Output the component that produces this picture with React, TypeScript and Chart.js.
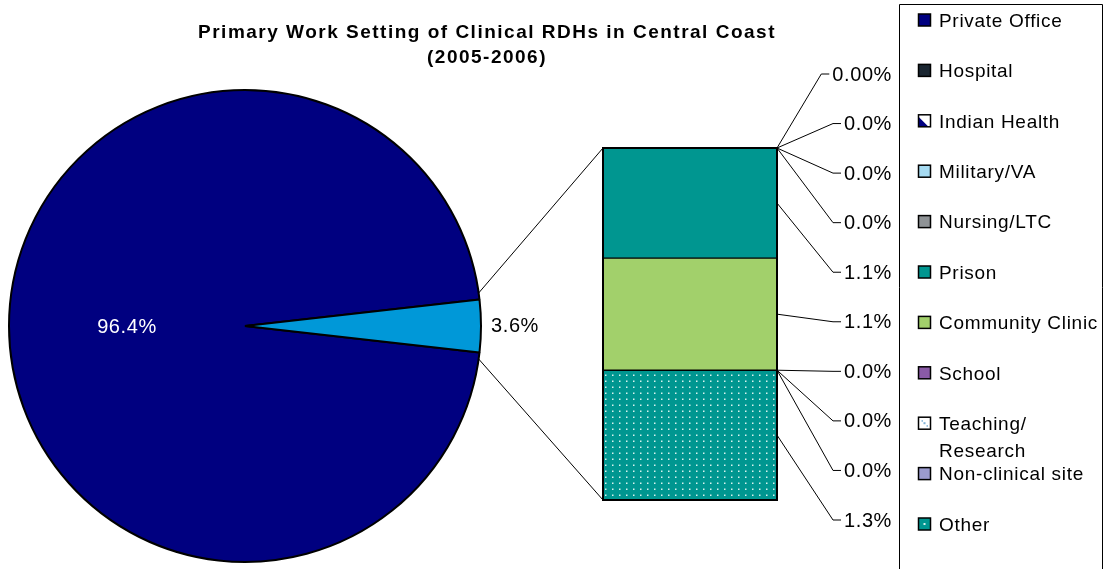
import React, { useEffect, useRef } from "react";
import { Chart, registerables } from "chart.js";

Chart.register(...registerables);

// ---------- data ----------
const TITLE_LINES = ["Primary Work Setting of Clinical RDHs in Central Coast", "(2005-2006)"];
const PIE_CATEGORY = "Private Office";
const PIE_VALUE = 96.42;
const BAR_CATEGORIES = [
  "Hospital",
  "Indian Health",
  "Military/VA",
  "Nursing/LTC",
  "Prison",
  "Community Clinic",
  "School",
  "Teaching/ Research",
  "Non-clinical site",
  "Other",
];
const BAR_VALUES = [0, 0, 0, 0, 1.12, 1.14, 0, 0, 0, 1.32];
const BAR_LABEL_DECIMALS = [2, 1, 1, 1, 1, 1, 1, 1, 1, 1];

// ---------- styles ----------
type Fill =
  | { kind: "solid"; color: string }
  | { kind: "dots"; bg: string; dot: string }
  | { kind: "diag"; bg: string; fg: string };

const PIE_FILL: Fill = { kind: "solid", color: "#000080" };
const PIE_OTHER_COLOR = "#0098D8";
const BAR_FILLS: Fill[] = [
  { kind: "solid", color: "#1A2631" },
  { kind: "diag", bg: "#FFFFFF", fg: "#000080" },
  { kind: "solid", color: "#A6DBF2" },
  { kind: "solid", color: "#8F9396" },
  { kind: "solid", color: "#009690" },
  { kind: "solid", color: "#A2D06B" },
  { kind: "solid", color: "#8A5AA6" },
  { kind: "dots", bg: "#FFFFFF", dot: "#7FB2D8" },
  { kind: "solid", color: "#9B9BCF" },
  { kind: "dots", bg: "#009690", dot: "#D8F2EE" },
];

const FONT = '"Liberation Sans", Arial, Helvetica, sans-serif';
const W = 1110;
const H = 569;

// layout
const PIE_BOX = { left: 8, top: 89, right: 482, bottom: 563 };
const BAR_BOX = { left: 603, top: 148, right: 777, bottom: 500 };
const LABEL_TOP = 74;
const LABEL_BOTTOM = 520;
const LABEL_RIGHT = 892;
const LEGEND = { left: 899, top: 4, right: 1102, y0: 20, step: 50.4, markerX: 918, marker: 12, textX: 939, lineH: 27 };

function makePattern(fill: Fill): string | CanvasPattern {
  if (fill.kind === "solid") return fill.color;
  const c = document.createElement("canvas");
  const g = c.getContext("2d")!;
  if (fill.kind === "dots") {
    c.width = 7;
    c.height = 6;
    g.fillStyle = fill.bg;
    g.fillRect(0, 0, 7, 6);
    g.fillStyle = fill.dot;
    g.fillRect(3, 2.5, 1.5, 1.5);
  } else {
    c.width = 8;
    c.height = 8;
    g.fillStyle = fill.bg;
    g.fillRect(0, 0, 8, 8);
    g.strokeStyle = fill.fg;
    g.lineWidth = 3;
    g.beginPath();
    g.moveTo(-2, -2);
    g.lineTo(10, 10);
    g.stroke();
  }
  return g.createPattern(c, "repeat")!;
}

function setFont(ctx: CanvasRenderingContext2D, size: number, bold: boolean, ls: number) {
  ctx.font = `${bold ? "bold " : ""}${size}px ${FONT}`;
  (ctx as any).letterSpacing = `${ls}px`;
}

function drawMarker(ctx: CanvasRenderingContext2D, fill: Fill, x: number, y: number, s: number) {
  ctx.save();
  if (fill.kind === "solid") {
    ctx.fillStyle = fill.color;
    ctx.fillRect(x, y, s, s);
  } else if (fill.kind === "dots") {
    ctx.fillStyle = fill.bg;
    ctx.fillRect(x, y, s, s);
    ctx.fillStyle = fill.dot;
    ctx.fillRect(x + s / 2 - 1, y + s / 2 - 1, 2, 2);
    if (fill.bg === "#FFFFFF") {
      ctx.fillRect(x + 3, y + 3, 1.5, 1.5);
      ctx.fillRect(x + s - 4, y + s - 4, 1.5, 1.5);
    }
  } else {
    ctx.fillStyle = fill.bg;
    ctx.fillRect(x, y, s, s);
    ctx.fillStyle = fill.fg;
    ctx.beginPath();
    ctx.moveTo(x, y + 2);
    ctx.lineTo(x + s - 2, y + s);
    ctx.lineTo(x, y + s);
    ctx.closePath();
    ctx.fill();
  }
  ctx.strokeStyle = "#000";
  ctx.lineWidth = 1.5;
  ctx.strokeRect(x, y, s, s);
  ctx.restore();
}

function wrapWords(ctx: CanvasRenderingContext2D, text: string, maxW: number): string[] {
  const words = text.split(" ");
  const lines: string[] = [];
  let cur = "";
  for (const w of words) {
    const test = cur ? cur + " " + w : w;
    if (cur && ctx.measureText(test).width > maxW) {
      lines.push(cur);
      cur = w;
    } else cur = test;
  }
  if (cur) lines.push(cur);
  return lines;
}

export default function App() {
  const pieRef = useRef<HTMLCanvasElement>(null);
  const barRef = useRef<HTMLCanvasElement>(null);

  useEffect(() => {
    document.body.style.margin = "0";
    const barTotal = BAR_VALUES.reduce((a, b) => a + b, 0);
    const total = PIE_VALUE + barTotal;

    const pie = new Chart(pieRef.current!, {
      type: "pie",
      data: {
        labels: [PIE_CATEGORY, "Other settings"],
        datasets: [
          {
            data: [PIE_VALUE, barTotal],
            backgroundColor: [(PIE_FILL as any).color, PIE_OTHER_COLOR],
            borderColor: "#000",
            borderWidth: 2,
          },
        ],
      },
      options: {
        responsive: false,
        animation: false,
        rotation: 90 + (barTotal / total) * 180,
        layout: {
          padding: { left: PIE_BOX.left, top: PIE_BOX.top, right: W - PIE_BOX.right, bottom: H - PIE_BOX.bottom },
        },
        plugins: { legend: { display: false }, tooltip: { enabled: false } },
      },
    });

    const patterns = BAR_FILLS.map(makePattern);
    const stackOrder = BAR_CATEGORIES.map((_, i) => BAR_CATEGORIES.length - 1 - i);

    const overlay = {
      id: "overlay",
      afterDraw(chart: any) {
        const ctx: CanvasRenderingContext2D = chart.ctx;
        ctx.save();

        // ---- title ----
        setFont(ctx, 19, true, 1.5);
        ctx.fillStyle = "#000";
        ctx.textAlign = "center";
        ctx.textBaseline = "alphabetic";
        ctx.fillText(TITLE_LINES[0], 487, 38);
        ctx.fillText(TITLE_LINES[1], 487, 63);

        // ---- pie labels ----
        const pmeta = pie.getDatasetMeta(0);
        const big: any = pmeta.data[0];
        const small: any = pmeta.data[1];
        const bigMid = (big.startAngle + big.endAngle) / 2;
        setFont(ctx, 20, false, 0.6);
        ctx.textBaseline = "middle";
        ctx.textAlign = "center";
        ctx.fillStyle = "#FFFFFF";
        ctx.fillText(
          ((PIE_VALUE / total) * 100).toFixed(1) + "%",
          big.x + Math.cos(bigMid) * big.outerRadius * 0.5,
          big.y + Math.sin(bigMid) * big.outerRadius * 0.5 + 1
        );
        const smallMid = (small.startAngle + small.endAngle) / 2;
        ctx.fillStyle = "#000";
        ctx.textAlign = "left";
        ctx.fillText(
          ((barTotal / total) * 100).toFixed(1) + "%",
          small.x + Math.cos(smallMid) * (small.outerRadius + 10),
          small.y + Math.sin(smallMid) * (small.outerRadius + 10)
        );

        // ---- bar geometry ----
        const rects = BAR_CATEGORIES.map((_, i) => {
          const dsIndex = stackOrder.indexOf(i);
          const el: any = chart.getDatasetMeta(dsIndex).data[0];
          return { x: el.x, w: el.width, top: Math.min(el.y, el.base), bottom: Math.max(el.y, el.base) };
        });
        const bx0 = rects[0].x - rects[0].w / 2;
        const bx1 = rects[0].x + rects[0].w / 2;
        const by0 = Math.min(...rects.map((r) => r.top));
        const by1 = Math.max(...rects.map((r) => r.bottom));

        ctx.strokeStyle = "#000";
        ctx.lineWidth = 2;
        ctx.strokeRect(bx0, by0, bx1 - bx0, by1 - by0);

        // ---- connectors pie -> bar ----
        const pad = (1.6 * Math.PI) / 180;
        const r = small.outerRadius;
        ctx.lineWidth = 1;
        ctx.beginPath();
        ctx.moveTo(small.x + Math.cos(small.startAngle - pad) * r, small.y + Math.sin(small.startAngle - pad) * r);
        ctx.lineTo(bx0, by0);
        ctx.moveTo(small.x + Math.cos(small.endAngle + pad) * r, small.y + Math.sin(small.endAngle + pad) * r);
        ctx.lineTo(bx0, by1);
        ctx.stroke();

        // ---- bar labels with leaders ----
        setFont(ctx, 20, false, 0.6);
        ctx.textAlign = "left";
        ctx.textBaseline = "middle";
        const n = BAR_CATEGORIES.length;
        BAR_CATEGORIES.forEach((_, i) => {
          const rc = rects[i];
          const ay = (rc.top + rc.bottom) / 2;
          const ly = LABEL_TOP + (i * (LABEL_BOTTOM - LABEL_TOP)) / (n - 1);
          const txt = ((BAR_VALUES[i] / total) * 100).toFixed(BAR_LABEL_DECIMALS[i]) + "%";
          const tw = ctx.measureText(txt).width;
          const tl = LABEL_RIGHT - tw;
          ctx.beginPath();
          ctx.moveTo(bx1, ay);
          ctx.lineTo(tl - 11, ly);
          ctx.lineTo(tl - 3, ly);
          ctx.stroke();
          ctx.fillStyle = "#000";
          ctx.fillText(txt, tl, ly + 1);
        });

        // ---- legend ----
        ctx.lineWidth = 1;
        ctx.strokeStyle = "#000";
        ctx.beginPath();
        ctx.moveTo(LEGEND.left + 0.5, H + 5);
        ctx.lineTo(LEGEND.left + 0.5, LEGEND.top + 0.5);
        ctx.lineTo(LEGEND.right + 0.5, LEGEND.top + 0.5);
        ctx.lineTo(LEGEND.right + 0.5, H + 5);
        ctx.stroke();

        const entries = [PIE_CATEGORY, ...BAR_CATEGORIES];
        const fills = [PIE_FILL, ...BAR_FILLS];
        entries.forEach((name, i) => {
          const y = LEGEND.y0 + i * LEGEND.step;
          drawMarker(ctx, fills[i], LEGEND.markerX + 0.5, y - LEGEND.marker / 2, LEGEND.marker);
          setFont(ctx, 19, false, 0.7);
          ctx.fillStyle = "#000";
          ctx.textAlign = "left";
          ctx.textBaseline = "middle";
          const lines = wrapWords(ctx, name, LEGEND.right - LEGEND.textX);
          lines.forEach((ln, k) => ctx.fillText(ln, LEGEND.textX, y + 1.5 + k * LEGEND.lineH));
        });

        ctx.restore();
      },
    };

    const bar = new Chart(barRef.current!, {
      type: "bar",
      data: {
        labels: [""],
        datasets: stackOrder.map((i) => ({
          label: BAR_CATEGORIES[i],
          data: [BAR_VALUES[i]],
          backgroundColor: patterns[i] as any,
          borderColor: "#000",
          borderWidth: 1,
          borderSkipped: false,
          barPercentage: 1,
          categoryPercentage: 1,
        })),
      },
      options: {
        responsive: false,
        animation: false,
        layout: {
          padding: { left: BAR_BOX.left, top: BAR_BOX.top, right: W - BAR_BOX.right, bottom: H - BAR_BOX.bottom },
        },
        scales: {
          x: { display: false, stacked: true },
          y: { display: false, stacked: true, min: 0, max: barTotal },
        },
        plugins: { legend: { display: false }, tooltip: { enabled: false } },
      },
      plugins: [overlay],
    });

    return () => {
      bar.destroy();
      pie.destroy();
    };
  }, []);

  return (
    <div style={{ position: "fixed", left: 0, top: 0, width: W, height: H, background: "#fff", overflow: "hidden" }}>
      <canvas ref={pieRef} width={W} height={H} style={{ position: "absolute", left: 0, top: 0, width: W, height: H }} />
      <canvas ref={barRef} width={W} height={H} style={{ position: "absolute", left: 0, top: 0, width: W, height: H }} />
    </div>
  );
}
